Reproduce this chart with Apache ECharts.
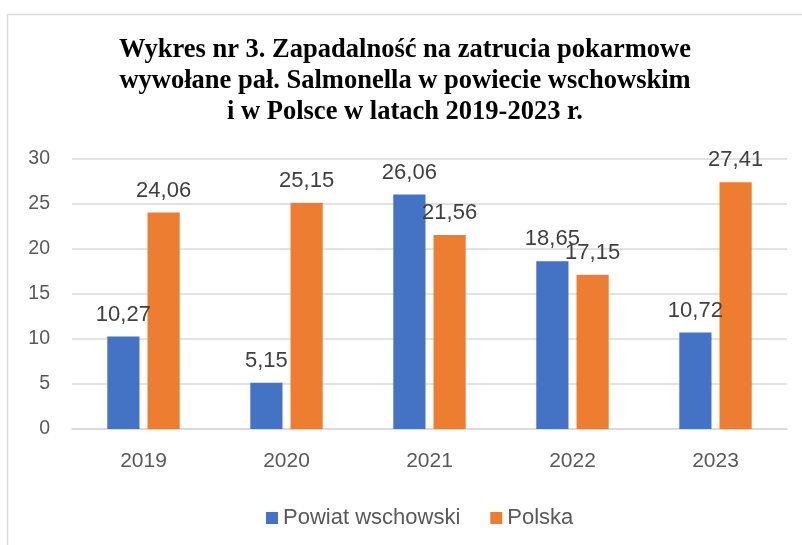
<!DOCTYPE html>
<html>
<head>
<meta charset="utf-8">
<script src="https://cdn.jsdelivr.net/npm/echarts@6/dist/echarts.min.js"></script>
<style>
  html, body { margin: 0; padding: 0; background: #fff; }
  #chart { width: 802px; height: 545px; }
</style>
</head>
<body>
<div id="chart"></div>
<script>
// dane z wykresu
const years = ['2019', '2020', '2021', '2022', '2023'];
const powiat = [10.27, 5.15, 26.06, 18.65, 10.72];
const polska = [24.06, 25.15, 21.56, 17.15, 27.41];
const seriesNames = ['Powiat wschowski', 'Polska'];

const fmt = (p) => p.value.toFixed(2).replace('.', ',');

const chart = echarts.init(document.getElementById('chart'));
chart.setOption({
  backgroundColor: '#fff',
  animation: false,
  title: {
    text: 'Wykres nr 3. Zapadalność na zatrucia pokarmowe\nwywołane pał. Salmonella w powiecie wschowskim\ni w Polsce w latach 2019-2023 r.',
    left: 400,
    textAlign: 'center',
    top: 30,
    textStyle: {
      fontFamily: 'Liberation Serif',
      fontWeight: 'bold',
      fontSize: 26.5,
      lineHeight: 31,
      color: '#000'
    }
  },
  graphic: [{
    type: 'rect',
    shape: { x: 7.5, y: 14.5, width: 820, height: 560 },
    style: { fill: 'none', stroke: '#d9d9d9', lineWidth: 1.5 },
    silent: true
  }],
  legend: {
    data: seriesNames,
    left: 261,
    top: 502,
    itemWidth: 12,
    itemHeight: 12,
    itemGap: 30,
    icon: 'rect',
    textStyle: { fontFamily: 'Liberation Sans', fontSize: 22, color: '#595959' }
  },
  grid: { left: 72, right: 15, top: 159, bottom: 116 },
  xAxis: {
    type: 'category',
    data: years,
    axisLine: { lineStyle: { color: '#d9d9d9', width: 1.5 } },
    axisTick: { show: false },
    axisLabel: { margin: 22, fontFamily: 'Liberation Sans', fontSize: 21, color: '#595959' }
  },
  yAxis: {
    type: 'value',
    min: 0,
    max: 30,
    interval: 5,
    axisLine: { show: false },
    axisTick: { show: false },
    axisLabel: { margin: 22, fontFamily: 'Liberation Sans', fontSize: 19.5, color: '#595959' },
    splitLine: { lineStyle: { color: '#d9d9d9', width: 1.5 } }
  },
  series: [
    {
      name: seriesNames[0],
      type: 'bar',
      data: powiat,
      barWidth: '22.5%',
      barGap: '25%',
      itemStyle: { color: '#4472c4' },
      label: {
        show: true, position: 'top', distance: 11, formatter: fmt,
        fontFamily: 'Liberation Sans', fontSize: 22, color: '#404040'
      }
    },
    {
      name: seriesNames[1],
      type: 'bar',
      data: polska,
      barWidth: '22.5%',
      itemStyle: { color: '#ed7d31' },
      label: {
        show: true, position: 'top', distance: 11, formatter: fmt,
        fontFamily: 'Liberation Sans', fontSize: 22, color: '#404040'
      }
    }
  ]
});
</script>
</body>
</html>
